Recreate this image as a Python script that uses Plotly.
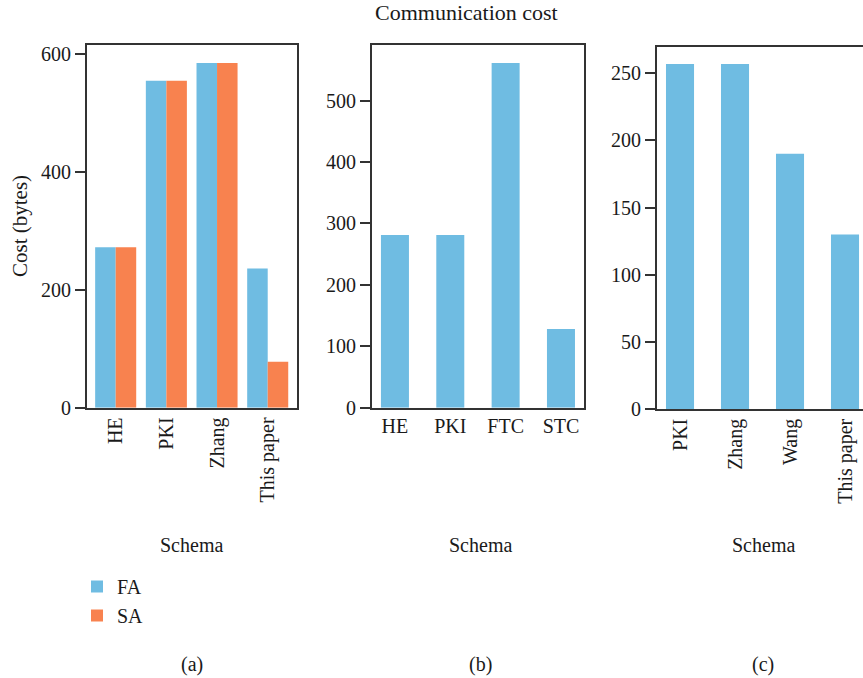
import plotly.graph_objects as go

W, H = 863, 678

# ---- data ----
cats_a = ["HE", "PKI", "Zhang", "This paper"]
fa_a = [272, 554, 584, 236]
sa_a = [272, 554, 584, 78]

cats_b = ["HE", "PKI", "FTC", "STC"]
vals_b = [281, 281, 561, 128]

cats_c = ["PKI", "Zhang", "Wang", "This paper"]
vals_c = [257, 257, 190, 130]

BLUE = "#6FBCE2"
ORANGE = "#F8824F"
FONT = "Liberation Serif"
TXT = "#1a1a1a"
FS = 20

def px_x(x):
    return x / W

def px_y(y):
    return 1 - y / H

fig = go.Figure()

fig.add_trace(go.Bar(x=cats_a, y=fa_a, name="FA", marker_color=BLUE, marker_line_width=0,
                     width=0.405, offset=-0.405, xaxis="x", yaxis="y"))
fig.add_trace(go.Bar(x=cats_a, y=sa_a, name="SA", marker_color=ORANGE, marker_line_width=0,
                     width=0.405, offset=0.0, xaxis="x", yaxis="y"))
fig.add_trace(go.Bar(x=cats_b, y=vals_b, name="FA", marker_color=BLUE, marker_line_width=0,
                     width=0.506, offset=-0.253, xaxis="x2", yaxis="y2",
                     showlegend=False))
fig.add_trace(go.Bar(x=cats_c, y=vals_c, name="FA", marker_color=BLUE, marker_line_width=0,
                     width=0.51, offset=-0.255, xaxis="x3", yaxis="y3",
                     showlegend=False))

axis_common = dict(showgrid=False, zeroline=False, linecolor="#333", linewidth=1.5,
                   automargin=False,
                   tickfont=dict(family=FONT, size=FS, color=TXT))

top_ab, bot_ab = 45, 407.7
top_c, bot_c = 46.7, 409

fig.update_layout(
    width=W, height=H, autosize=False,
    margin=dict(l=0, r=0, t=0, b=0, pad=0, autoexpand=False),
    paper_bgcolor="white", plot_bgcolor="white",
    barmode="overlay",
    font=dict(family=FONT, size=FS, color=TXT),
    xaxis=dict(domain=[px_x(86.7), px_x(296.7)], anchor="y", type="category",
               range=[-0.572, 3.572], mirror=True, showline=True, ticks="",
               tickangle=-90, **axis_common),
    yaxis=dict(domain=[px_y(bot_ab), px_y(top_ab)], anchor="x", range=[0, 614.7],
               tickvals=[0, 200, 400, 600], mirror=True, showline=True,
               ticks="outside", ticklen=10, tickwidth=1.5, tickcolor="#333",
               **axis_common),
    xaxis2=dict(domain=[px_x(371.7), px_x(584)], anchor="y2", type="category",
                range=[-0.42, 3.416], mirror=True, showline=True, ticks="",
                tickangle=0, **axis_common),
    yaxis2=dict(domain=[px_y(bot_ab), px_y(top_ab)], anchor="x2", range=[0, 590.5],
                tickvals=[0, 100, 200, 300, 400, 500], mirror=True, showline=True,
                ticks="outside", ticklen=10, tickwidth=1.5, tickcolor="#333",
                **axis_common),
    xaxis3=dict(domain=[px_x(656.7), 1.0], anchor="y3", type="category",
                range=[-0.424, 3.327], mirror=True, showline=True, ticks="",
                tickangle=-90, **axis_common),
    yaxis3=dict(domain=[px_y(bot_c), px_y(top_c)], anchor="x3", range=[0, 269.8],
                tickvals=[0, 50, 100, 150, 200, 250], mirror=False, showline=True,
                ticks="outside", ticklen=10, tickwidth=1.5, tickcolor="#333",
                **axis_common),
    legend=dict(x=px_x(77), y=px_y(567), xanchor="left", yanchor="top",
                font=dict(family=FONT, size=FS, color=TXT), bgcolor="rgba(0,0,0,0)",
                tracegroupgap=0),
)

def ann(text, x, y, angle=0, size=FS):
    fig.add_annotation(text=text, x=px_x(x), y=px_y(y), xref="paper", yref="paper",
                       showarrow=False, xanchor="center", yanchor="middle",
                       textangle=angle, font=dict(family=FONT, size=size, color=TXT))

ann("Communication cost", 466.5, 13, size=22)
ann("Cost (bytes)", 20, 226, -90, size=21)
for cx in (191, 480, 763):
    ann("Schema", cx, 545)
ann("(a)", 191.5, 664)
ann("(b)", 480, 664)
ann("(c)", 763, 664)

post = (
    "document.documentElement.style.margin='0';"
    "document.documentElement.style.overflow='hidden';"
    "document.body.style.margin='0';"
    "document.body.style.overflow='hidden';"
    "var d=document.getElementById('{plot_id}');"
    "d.style.position='fixed';d.style.left='0px';d.style.top='0px';"
)
fig.write_html("out.html", post_script=post,
               config={"displayModeBar": False, "responsive": False})
